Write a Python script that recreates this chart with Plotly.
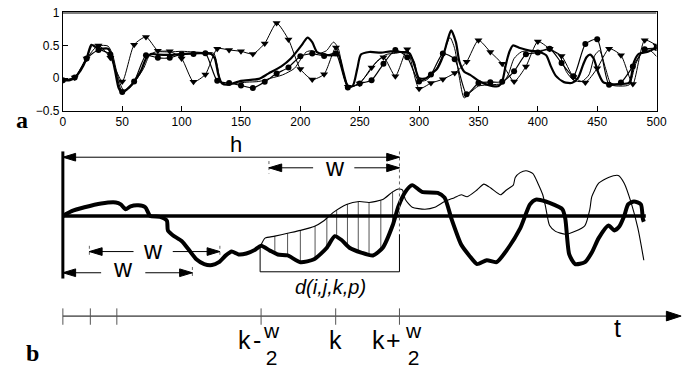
import numpy as np
import plotly.graph_objects as go

# ---------------- Panel a data ----------------
t_mark = list(range(0, 501, 10))
circle_vals = [-0.03, 0.01, 0.30, 0.43, 0.36, -0.21, -0.05, 0.35, 0.31, 0.31,
               0.365, 0.37, 0.38, -0.04, -0.075, -0.11, -0.15, -0.055, 0.07, 0.165,
               0.335, 0.375, 0.34, 0.375, -0.14, -0.08, -0.03, 0.22, 0.43, 0.32,
               -0.05, 0.057, 0.375, 0.29, -0.245, -0.075, -0.06, -0.055, 0.105, 0.365,
               0.39, 0.45, 0.23, 0.03, 0.52, 0.595, -0.10, -0.065, 0.18, 0.44, 0.46]
triangle_vals = [-0.03, 0.01, 0.30, 0.50, 0.31, -0.05, 0.51, 0.63, 0.42, 0.41,
                 0.30, -0.055, 0.057, 0.45, 0.43, 0.41, 0.37, 0.53, 0.84, 0.59,
                 0.14, -0.02, 0.06, 0.47, -0.13, -0.08, 0.165, 0.32, 0.03, 0.44,
                 -0.16, -0.075, -0.016, 0.08, 0.25, 0.58, 0.40, 0.22, -0.05, 0.18,
                 0.56, 0.45, 0.34, 0.02, -0.065, 0.15, 0.45, 0.35, -0.09, 0.58, 0.50]
thick_t = [0, 6, 10, 15, 20, 24, 28, 32, 38, 41, 44, 47, 50, 54, 58, 62, 66, 70, 74, 80,
           90, 100, 110, 120, 125, 128, 131, 134, 138, 150, 165, 173, 184, 192, 201, 206, 210, 214, 220, 228,
           232, 236, 240, 244, 248, 251, 258, 268, 276, 285, 292, 296, 300, 306, 311, 315, 320, 324, 327, 331,
           334, 338, 343, 350, 356, 362, 367, 370, 373, 376, 379, 385, 393, 401, 407, 411, 415, 422, 429, 434,
           438, 441, 444, 447, 451, 455, 462, 470, 477, 481, 485, 492, 500]
thick_v = [-0.03, -0.03, 0.01, 0.12, 0.30, 0.51, 0.47, 0.45, 0.45, 0.35, 0.11, -0.15, -0.22, -0.17, -0.10, 0.0, 0.12, 0.30, 0.37, 0.36,
           0.355, 0.37, 0.38, 0.38, 0.37, 0.30, 0.05, -0.08, -0.10, -0.04, -0.01, 0.07, 0.18, 0.30, 0.50, 0.62, 0.55, 0.40, 0.36, 0.35,
           0.36, 0.11, -0.12, -0.12, 0.15, 0.36, 0.40, 0.39, 0.41, 0.40, 0.38, 0.20, 0.0, 0.0, 0.08, 0.14, 0.33, 0.58, 0.73, 0.55,
           0.25, 0.10, 0.05, -0.04, -0.09, -0.12, -0.12, -0.05, 0.20, 0.40, 0.50, 0.46, 0.42, 0.40, 0.35, 0.18, 0.04, -0.06, -0.07, 0.01,
           0.20, 0.32, 0.36, 0.30, 0.08, -0.06, -0.09, -0.09, -0.065, 0.25, 0.37, 0.40, 0.47]
thin_t = [0, 6, 10, 15, 20, 25, 30, 38, 42, 46, 51, 56, 62, 68, 73, 78, 90, 100, 110, 120,
          127, 130, 133, 137, 145, 155, 165, 175, 185, 195, 200, 205, 210, 216, 222, 228, 232, 236, 241, 248,
          256, 264, 272, 280, 290, 296, 300, 306, 313, 320, 326, 330, 334, 338, 343, 350, 360, 370, 375, 380,
          386, 392, 400, 410, 418, 424, 430, 437, 443, 448, 452, 457, 462, 470, 477, 482, 488, 494, 500]
thin_v = [-0.03, -0.03, 0.01, 0.13, 0.30, 0.50, 0.50, 0.49, 0.35, 0.05, -0.18, -0.15, -0.02, 0.15, 0.35, 0.40, 0.40, 0.41, 0.40, 0.39,
          0.38, 0.20, -0.05, -0.09, -0.08, -0.06, -0.05, 0.0, 0.05, 0.15, 0.28, 0.40, 0.42, 0.38, 0.42, 0.55, 0.45, 0.10, -0.13, -0.10,
          0.05, 0.25, 0.36, 0.38, 0.40, 0.25, -0.04, -0.03, 0.10, 0.35, 0.62, 0.45, 0.0, -0.30, -0.22, -0.12, -0.10, -0.08, 0.05, 0.30,
          0.40, 0.42, 0.42, 0.43, 0.35, 0.10, -0.03, -0.05, 0.05, 0.35, 0.42, 0.15, -0.10, -0.12, -0.10, 0.20, 0.40, 0.43, 0.33]
x_ticks = list(range(0, 501, 50))
y_ticks = [-0.5, 0, 0.5, 1]
y_tick_text = ["\u22120.5", "0", "0.5", "1"]

# ---------------- Panel b data (schematic, screen units) ----------------
b_thick_x = [61, 70, 83, 100, 115, 120, 125, 130, 138, 145, 150, 160, 167, 168, 173, 182, 190, 197, 205, 213,
             220, 227, 233, 240, 248, 257, 263, 272, 280, 290, 303, 317, 330, 338, 345, 353, 365, 377, 387, 397,
             403, 410, 417, 427, 443, 450, 457, 467, 475, 483, 493, 503, 513, 527, 537, 543, 553, 570, 573, 577,
             583, 593, 600, 607, 617, 623, 628, 633, 637, 643, 650, 652, 653]
b_thick_y = [217, 212, 208, 204, 203, 205, 210, 207, 206, 208, 217, 218, 222, 232, 237, 243, 253, 262, 267, 268,
             265, 258, 254, 257, 256, 252, 248, 253, 257, 258, 265, 262, 250, 238, 242, 250, 255, 258, 250, 227,
             207, 192, 185, 192, 193, 198, 220, 247, 258, 267, 263, 265, 253, 230, 205, 200, 202, 210, 220, 257,
             267, 265, 255, 240, 227, 232, 228, 217, 205, 202, 205, 220, 223]
b_thin_x = [263, 267, 277, 290, 303, 317, 327, 337, 350, 363, 373, 387, 397, 403, 407, 410, 417, 430, 440, 450,
            460, 467, 473, 483, 490, 497, 507, 513, 520, 522, 527, 533, 540, 545, 550, 553, 557, 563, 573, 583,
            593, 598, 600, 607, 617, 627, 633, 640, 647, 653]
b_thin_y = [247, 240, 238, 235, 232, 228, 222, 213, 205, 202, 203, 200, 192, 189, 190, 200, 208, 210, 208, 202,
            198, 195, 197, 190, 184, 188, 195, 190, 185, 177, 172, 170, 173, 183, 195, 208, 227, 233, 236, 233,
            227, 210, 197, 183, 177, 175, 183, 203, 230, 263]
hatch_x = [277, 290, 303, 318, 330, 340, 351, 362, 373, 385, 397]
baseline_y = 217
origin_x = 61
t_axis_y = 321
t_tick_x = [61, 89, 116, 263, 339, 404]

fig = go.Figure()

# ---- panel a traces ----
fig.add_trace(go.Scatter(x=thin_t, y=thin_v, mode="lines", line=dict(color="black", width=1, shape="spline", smoothing=0.7),
                         xaxis="x", yaxis="y", hoverinfo="skip"))
fig.add_trace(go.Scatter(x=t_mark, y=triangle_vals, mode="lines+markers",
                         line=dict(color="black", width=1, shape="spline", smoothing=0.6),
                         marker=dict(symbol="triangle-down", size=7, color="black"),
                         xaxis="x", yaxis="y", hoverinfo="skip"))
fig.add_trace(go.Scatter(x=t_mark, y=circle_vals, mode="lines+markers",
                         line=dict(color="black", width=1.2, shape="spline", smoothing=0.6),
                         marker=dict(symbol="circle", size=6, color="black"),
                         xaxis="x", yaxis="y", hoverinfo="skip"))
fig.add_trace(go.Scatter(x=thick_t, y=thick_v, mode="lines", line=dict(color="black", width=2.2, shape="spline", smoothing=0.7),
                         xaxis="x", yaxis="y", hoverinfo="skip"))

# ---- panel b traces ----
def seg_trace(xs, ys, width=1, color="black", dash=None):
    return go.Scatter(x=xs, y=ys, mode="lines", line=dict(color=color, width=width, dash=dash),
                      xaxis="x2", yaxis="y2", hoverinfo="skip", cliponaxis=False)

# hatching between thin and thick curves
hx, hy = [], []
for xv in hatch_x:
    y1 = np.interp(xv, b_thin_x, b_thin_y)
    y2 = np.interp(xv, b_thick_x, b_thick_y)
    hx += [xv, xv, None]
    hy += [y1, y2, None]
fig.add_trace(seg_trace(hx, hy, width=1, color="#555555"))

# baseline and origin line
fig.add_trace(seg_trace([origin_x, 655], [baseline_y, baseline_y], width=3.5))
fig.add_trace(seg_trace([origin_x, origin_x], [150, 282], width=3))

fig.add_trace(go.Scatter(x=b_thin_x, y=b_thin_y, mode="lines", line=dict(color="black", width=1.1, shape="spline", smoothing=0.6),
                         xaxis="x2", yaxis="y2", hoverinfo="skip", cliponaxis=False))
fig.add_trace(go.Scatter(x=b_thick_x, y=b_thick_y, mode="lines", line=dict(color="black", width=4, shape="spline", smoothing=0.6),
                         xaxis="x2", yaxis="y2", hoverinfo="skip", cliponaxis=False))

# dotted guide lines
dx = [404, 404, None, 271, 271, None, 88, 88, None, 221, 221, None, 193, 193]
dy = [150, 233, None, 160, 173, None, 248, 260, None, 248, 260, None, 270, 281]
fig.add_trace(seg_trace(dx, dy, width=1, color="#666666", dash="dot"))

# bracket for d(i,j,k,p)
fig.add_trace(seg_trace([262, 262, 404, 404], [250, 275, 275, 236], width=1))

# dimension arrows: shafts
shafts = [
    (origin_x, 404, 156),
    (271, 316, 167), (358, 404, 167),
    (88, 133, 254), (173, 221, 254),
    (origin_x, 100, 276), (145, 193, 276),
]
sx, sy = [], []
for a, b, yv in shafts:
    sx += [a, b, None]
    sy += [yv, yv, None]
sx += [origin_x, 678, None]
sy += [t_axis_y, t_axis_y, None]
fig.add_trace(seg_trace(sx, sy, width=1))

# t axis ticks
tx, ty = [], []
for xv in t_tick_x:
    tx += [xv, xv, None]
    ty += [t_axis_y - 8, t_axis_y + 9, None]
fig.add_trace(seg_trace(tx, ty, width=1, color="#555555"))

# arrowheads
heads = [(origin_x, 156, -1), (404, 156, 1), (271, 167, -1), (404, 167, 1),
         (88, 254, -1), (221, 254, 1), (origin_x, 276, -1), (193, 276, 1)]
L, HW = 13, 4
ax_, ay_ = [], []
for xt, yv, d in heads:
    ax_ += [xt, xt - d * L, xt - d * L, xt, None]
    ay_ += [yv, yv - HW, yv + HW, yv, None]
# t-axis arrowhead
ax_ += [691, 676, 676, 691, None]
ay_ += [t_axis_y, t_axis_y - 5, t_axis_y + 5, t_axis_y, None]
fig.add_trace(go.Scatter(x=ax_, y=ay_, mode="lines", fill="toself", fillcolor="black",
                         line=dict(color="black", width=1), xaxis="x2", yaxis="y2",
                         hoverinfo="skip", cliponaxis=False))

# ---- text ----
sans = "Liberation Sans"
serif = "Liberation Serif"
texts = [
    ("h", 237, 143, 22),
    ("w", 338, 166, 25),
    ("w", 153, 252, 25),
    ("w", 122, 271, 25),
    ("k", 246, 346, 25),
    ("-", 259, 346, 25),
    ("k", 339, 346, 25),
    ("k", 383, 346, 25),
    ("+", 398, 346, 25),
    ("t", 626, 333, 25),
]
annotations = []
for s, x, y, sz in texts:
    annotations.append(dict(text=s, x=x, y=y, xref="x2", yref="y2", showarrow=False,
                            xanchor="center", yanchor="middle", font=dict(size=sz, family=sans, color="black")))
for fx in [274, 418]:
    annotations.append(dict(text="w<br>2", x=fx, y=350, xref="x2", yref="y2", showarrow=False,
                            xanchor="center", yanchor="middle", align="center",
                            font=dict(size=21, family=sans, color="black")))
annotations.append(dict(text="<i>d(i,j,k,p)</i>", x=334, y=291, xref="x2", yref="y2", showarrow=False,
                        xanchor="center", yanchor="middle", font=dict(size=20, family=sans, color="black")))
annotations.append(dict(text="<b>a</b>", x=19, y=117, xref="x2", yref="y2", showarrow=False,
                        xanchor="center", yanchor="middle", font=dict(size=24, family=serif, color="black")))
annotations.append(dict(text="<b>b</b>", x=30, y=359, xref="x2", yref="y2", showarrow=False,
                        xanchor="center", yanchor="middle", font=dict(size=24, family=serif, color="black")))

W, H = 697, 377
fig.update_layout(
    width=W, height=H, margin=dict(l=0, r=0, t=0, b=0),
    paper_bgcolor="white", plot_bgcolor="rgba(0,0,0,0)", showlegend=False,
    annotations=annotations,
    xaxis=dict(domain=[61 / W, 666 / W], range=[0, 500], anchor="y", tickvals=x_ticks,
               ticks="inside", ticklen=5, tickcolor="black", showline=True, linecolor="black",
               linewidth=1, mirror=True, showgrid=False, zeroline=False, ticklabeloverflow="allow",
               tickfont=dict(size=12, family=sans, color="black")),
    yaxis=dict(domain=[1 - 108 / H, 1 - 5.7 / H], range=[-0.5, 1.002], anchor="x", tickvals=y_ticks,
               ticktext=y_tick_text, ticks="inside", ticklen=5, tickcolor="black", showline=True,
               linecolor="black", linewidth=1, mirror=True, showgrid=False, zeroline=False,
               ticklabeloverflow="allow",
               tickfont=dict(size=12, family=sans, color="black")),
    xaxis2=dict(domain=[0, 1], range=[0, W], anchor="y2", visible=False, fixedrange=True),
    yaxis2=dict(domain=[0, 1], range=[H, 0], anchor="x2", visible=False, fixedrange=True),
    shapes=[dict(type="line", xref="x", yref="y", x0=0, x1=500, y0=1.002, y1=1.002,
                 line=dict(color="black", width=2))],
)

fig.write_html("out.html")
